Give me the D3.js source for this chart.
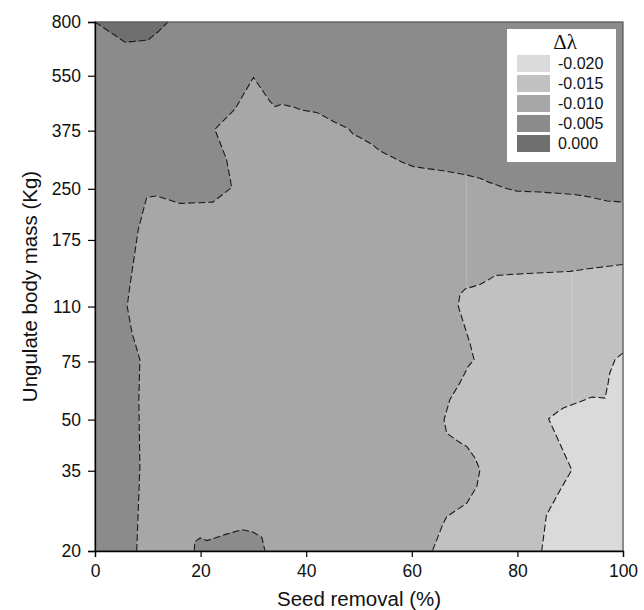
<!DOCTYPE html>
<html lang="en">
<head>
<meta charset="utf-8">
<title>Seed removal vs ungulate body mass</title>
<script src="https://d3js.org/d3.v7.min.js"></script>
<style>
body { margin: 0; background: #fff; }
text { font-family: "Liberation Sans", Arial, Helvetica, sans-serif; fill: #111; }
</style>
</head>
<body>
<script>
var xTicks = [0, 20, 40, 60, 80, 100];
var yTicks = [20, 35, 50, 75, 110, 175, 250, 375, 550, 800];
var levels = ["-0.020", "-0.015", "-0.010", "-0.005", "0.000"];
var levelColors = ["#dadada", "#c1c1c1", "#a7a7a7", "#8b8b8b", "#6f6f6f"];

// contour boundaries, [seed removal %, body mass kg]
var line000 = [[0,800],[5.7,695],[10.0,705],[11.9,746],[13.8,800]];
var line005 = [[7.9,20],[8.5,36.1],[8.3,57.4],[8.5,76.0],[7.0,91.7],[6.1,110.2],[6.6,126.8],
	[8.2,188.4],[9.8,235.6],[11.7,237.8],[16.1,225.8],[22.3,227.8],[25.9,252.4],[24.9,307],
	[22.7,378.6],[26.5,435.6],[30.0,543.4],[33.1,461],[34.1,443.6],[35.4,451],[37.9,440.6],
	[39.1,433],[42.0,425.6],[43.2,416],[45.5,397],[48.0,380.6],[48.9,365.6],[50.2,357.4],
	[52.7,338.6],[54.0,325.4],[56.5,310.8],[58.1,301.4],[60.3,291.8],[61.6,289.8],[65.3,284.4],
	[67.9,280],[70.4,275.2],[72.9,269],[74.8,261],[78.0,250.4],[79.9,246],[84.3,244.4],
	[90.6,240.4],[93.8,236],[97.0,229.6],[100,228]];
var bump005 = [[18.8,20],[18.9,21.3],[19.9,21.9],[21.2,21.5],[24.9,22.5],[27.8,23.2],
	[30.0,22.8],[31.6,22.0],[32.2,20]];
var line010 = [[100,147.5],[93.8,143.4],[90.0,140.6],[81.1,138.3],[75.8,136.6],[74.8,133.4],
	[72.9,128.2],[70.1,124.4],[69.1,119.6],[68.8,110.2],[71.0,85.3],[71.8,76.0],[70.7,72.5],
	[69.1,64.6],[67.2,57.4],[66.1,49.9],[66.6,45.5],[69.1,42.6],[70.4,41.5],[72.0,38.2],
	[72.9,35.2],[72.3,31.3],[70.4,27.9],[66.6,25.4],[65.7,23.7],[63.9,20]];
var line015 = [[100,79.6],[98.5,76.0],[97.5,69.2],[97.2,64.6],[96.6,58.1],[94.1,58.5],
	[91.2,56.1],[88.7,54.2],[87.7,52.9],[85.9,50.3],[90.3,35.2],[88.1,30.6],[85.5,25.7],[84.6,20]];
// faint vertical seams in the filled surface
var seams = [{x: 70.4, top: 275, bottom: 124}, {x: 90.4, top: 140.6, bottom: 56.3}];

var width = 644, height = 610;
var plot = {left: 95, right: 623, top: 22, bottom: 551};

var svg = d3.select("body").append("svg")
	.attr("width", width)
	.attr("height", height);

var x = d3.scaleLinear().domain([0, 100]).range([plot.left, plot.right]);
var y = d3.scaleLog().domain([20, 800]).range([plot.bottom, plot.top]);

var line = d3.line()
	.x(function(d){ return x(d[0]); })
	.y(function(d){ return y(d[1]); });

// background level
svg.append("rect")
	.attr("x", plot.left).attr("y", plot.top)
	.attr("width", plot.right - plot.left).attr("height", plot.bottom - plot.top)
	.attr("fill", levelColors[3]);

function area(pts, extra, color) {
	svg.append("path")
		.attr("d", line(pts.concat(extra)) + "Z")
		.attr("fill", color)
		.attr("stroke", color)
		.attr("stroke-width", 0.5);
}
area(line005, [[100,20]], levelColors[2]);
area(bump005, [], levelColors[3]);
area(line010, [[100,20]], levelColors[1]);
area(line015, [[100,20]], levelColors[0]);
area(line000, [], levelColors[4]);

svg.selectAll(".seam")
	.data(seams)
	.enter().append("line")
	.attr("x1", function(d){ return x(d.x); })
	.attr("x2", function(d){ return x(d.x); })
	.attr("y1", function(d){ return y(d.top); })
	.attr("y2", function(d){ return y(d.bottom); })
	.attr("stroke", "#fff")
	.attr("stroke-opacity", 0.22)
	.attr("stroke-width", 1);

// dashed contour lines
[line000, line005, bump005, line010, line015].forEach(function(pts){
	svg.append("path")
		.attr("d", line(pts))
		.attr("fill", "none")
		.attr("stroke", "#1a1a1a")
		.attr("stroke-width", 1.1)
		.attr("stroke-dasharray", "7,3");
});

// frame
svg.append("rect")
	.attr("x", plot.left).attr("y", plot.top)
	.attr("width", plot.right - plot.left).attr("height", plot.bottom - plot.top)
	.attr("fill", "none")
	.attr("stroke", "#555")
	.attr("stroke-width", 1.2);

var xAxis = svg.append("g")
	.attr("transform", "translate(0," + plot.bottom + ")")
	.call(d3.axisBottom(x).tickValues(xTicks).tickSize(6).tickPadding(8).tickFormat(d3.format("d")));
var yAxis = svg.append("g")
	.attr("transform", "translate(" + plot.left + ",0)")
	.call(d3.axisLeft(y).tickValues(yTicks).tickSize(7).tickPadding(7).tickFormat(d3.format("d")));
[xAxis, yAxis].forEach(function(g){
	g.select(".domain").attr("stroke", "#000").attr("stroke-width", 1.3);
	g.selectAll(".tick line").attr("stroke", "#000").attr("stroke-width", 1.2);
	g.selectAll(".tick text").attr("font-size", 17.5).attr("fill", "#111")
		.attr("font-family", "'Liberation Sans', Arial, sans-serif");
});

svg.append("text")
	.attr("x", (plot.left + plot.right) / 2)
	.attr("y", 606)
	.attr("text-anchor", "middle")
	.attr("font-size", 20.5)
	.text("Seed removal (%)");

svg.append("text")
	.attr("transform", "translate(37," + (plot.top + plot.bottom) / 2 + ") rotate(-90)")
	.attr("text-anchor", "middle")
	.attr("font-size", 20.5)
	.text("Ungulate body mass (Kg)");

// legend
var legend = svg.append("g").attr("transform", "translate(507,29)");
legend.append("rect")
	.attr("width", 109).attr("height", 133)
	.attr("fill", "#fff");
legend.append("text")
	.attr("x", 58).attr("y", 20)
	.attr("text-anchor", "middle")
	.attr("font-size", 21)
	.style("font-family", "'Liberation Serif', 'Times New Roman', serif")
	.text("Δλ");
var item = legend.selectAll(".item")
	.data(levels)
	.enter().append("g")
	.attr("transform", function(d, i){ return "translate(10," + (26 + i * 20) + ")"; });
item.append("rect")
	.attr("width", 33).attr("height", 17)
	.attr("fill", function(d, i){ return levelColors[i]; });
item.append("text")
	.attr("x", 41).attr("y", 14)
	.attr("font-size", 16)
	.text(function(d){ return d; });
</script>
</body>
</html>
